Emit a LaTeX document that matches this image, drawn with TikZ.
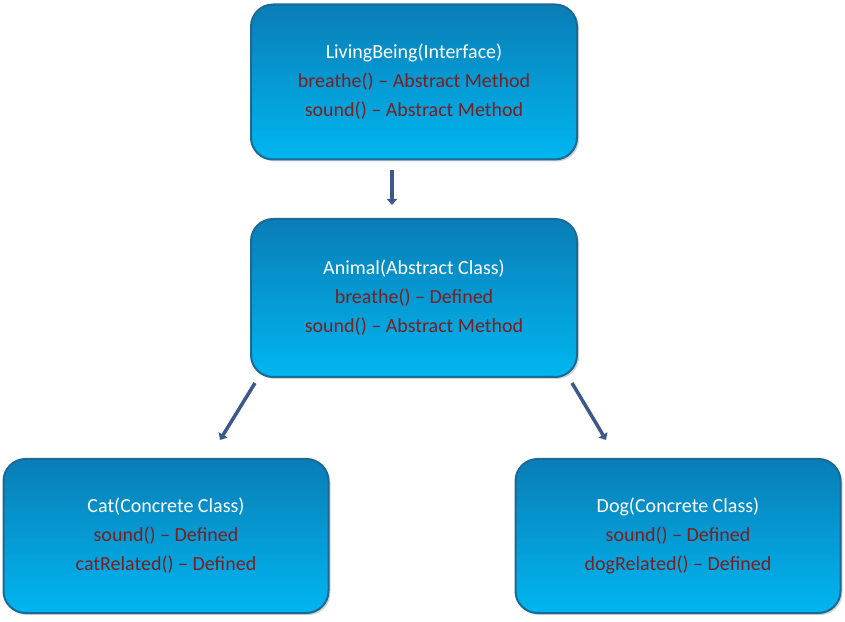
\documentclass[tikz,border=0pt]{standalone}
\usepackage{fontspec}
\setmainfont{Carlito}
\usetikzlibrary{arrows.meta,shadows}
\definecolor{boxtop}{HTML}{0A7DB6}
\definecolor{boxbot}{HTML}{00B6F0}
\definecolor{boxline}{HTML}{1A6A96}
\definecolor{methred}{HTML}{7A2020}
\definecolor{arrowc}{HTML}{3B5A8A}
\tikzset{
  cls/.style={draw=boxline, line width=2pt, rounded corners=22pt, top color=boxtop, bottom color=boxbot,
    minimum width=#1, align=center, font=\fontsize{20}{29}\selectfont, text=white,
    drop shadow={shadow xshift=2pt, shadow yshift=-2pt, opacity=0.35}},
  m/.style={text=methred},
  arr/.style={draw=arrowc, line width=3.5pt, -{Triangle[width=10pt,length=6pt]}}
}
\begin{document}
\begin{tikzpicture}[x=1pt,y=1pt]
\useasboundingbox (0,0) rectangle (845,621);
\node[cls=326pt, minimum height=155pt] (lb) at (414,539) {LivingBeing(Interface)\\\textcolor{methred}{breathe() – Abstract Method}\\\textcolor{methred}{sound() – Abstract Method}};
\node[cls=326pt, minimum height=158pt] (an) at (414,323) {Animal(Abstract Class)\\\textcolor{methred}{breathe() – Defined}\\\textcolor{methred}{sound() – Abstract Method}};
\node[cls=325pt, minimum height=154pt] (cat) at (166,85) {Cat(Concrete Class)\\\textcolor{methred}{sound() – Defined}\\\textcolor{methred}{catRelated() – Defined}};
\node[cls=325pt, minimum height=154pt] (dog) at (678,85) {Dog(Concrete Class)\\\textcolor{methred}{sound() – Defined}\\\textcolor{methred}{dogRelated() – Defined}};
\coordinate (a1) at (392,451); \coordinate (a2) at (392,416);
\coordinate (b1) at (255,238); \coordinate (b2) at (220,181);
\coordinate (c1) at (572,238); \coordinate (c2) at (606,181);
\draw[arr] (a1) -- (a2);
\draw[arr] (b1) -- (b2);
\draw[arr] (c1) -- (c2);
\end{tikzpicture}
\end{document}
